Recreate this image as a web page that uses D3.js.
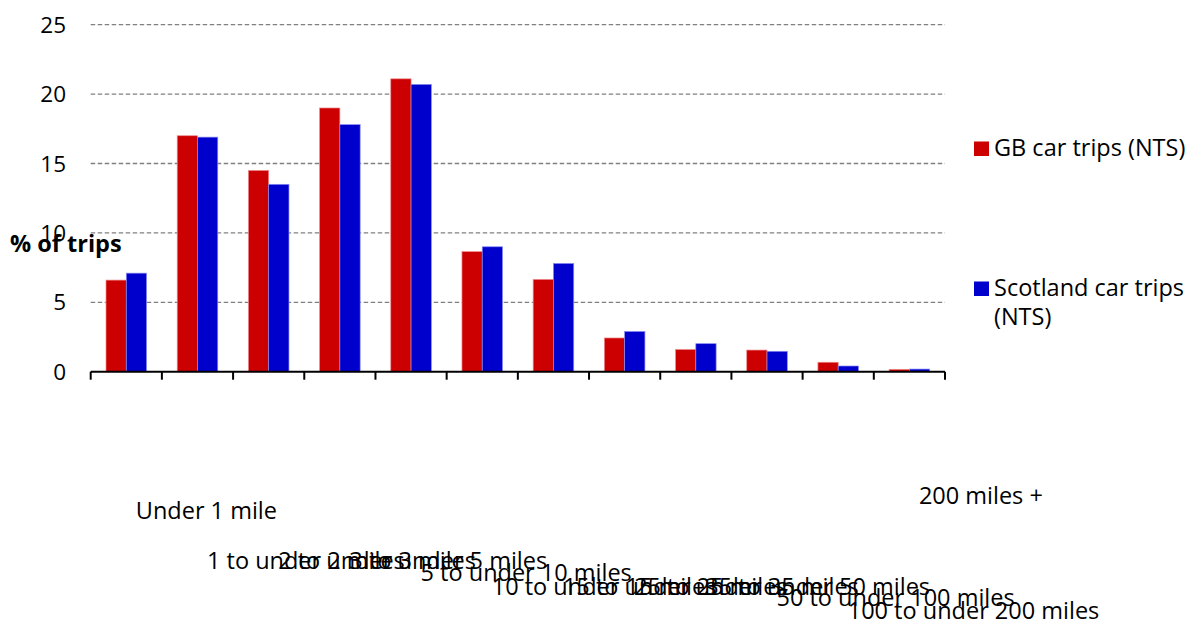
<!DOCTYPE html>
<html lang="en">
<head>
<meta charset="UTF-8">
<title>Car trips by distance</title>
<script src="https://d3js.org/d3.v7.min.js"></script>
<style>
  body { margin: 0; background: #fff; }
  svg text { font-family: "Open Sans", "Noto Sans", sans-serif; fill: #000; }
</style>
</head>
<body>
<div id="chart"></div>
<script>
// data
const categories = ["Under 1 mile", "1 to under 2 miles", "2 to under 3 miles", "3 to under 5 miles",
  "5 to under 10 miles", "10 to under 15 miles", "15 to under 25 miles", "25 to under 35 miles",
  "35 to under 50 miles", "50 to under 100 miles", "100 to under 200 miles", "200 miles +"];
const gbTrips = [6.6, 17.0, 14.5, 19.0, 21.1, 8.65, 6.65, 2.43, 1.6, 1.56, 0.68, 0.17];
const scotTrips = [7.1, 16.9, 13.5, 17.8, 20.7, 9.0, 7.8, 2.9, 2.02, 1.47, 0.41, 0.19];
const seriesNames = ["GB car trips (NTS)", "Scotland car trips (NTS)"];
const yTicks = [0, 5, 10, 15, 20, 25];

// the x labels are staggered in the original, one row per label
const labelRows = [1, 2, 2, 2, 3, 4, 4, 4, 4, 5, 6, 0];
const rowOffsets = [0, 15, 65, 77, 91, 102, 115];

const W = 1197, H = 620;
const mLeft = 90.7, mRight = 945, mTop = 24.7, mBottom = 371.7;

const svg = d3.select("#chart").append("svg")
  .attr("width", W).attr("height", H);

const x = d3.scaleBand().domain(categories).range([mLeft, mRight]);
const y = d3.scaleLinear().domain([0, 25]).range([mBottom, mTop]);
const step = x.step();
const inner = d3.scaleBand().domain([0, 1])
  .range([step * 0.215, step * 0.785]);

const colors = ["#cc0000", "#0000cc"];
const edges = ["#f08a8a", "#8a8af5"];

// gridlines
svg.append("g").selectAll("line")
  .data(yTicks.filter(d => d > 0))
  .join("line")
  .attr("x1", mLeft).attr("x2", mRight)
  .attr("y1", d => y(d)).attr("y2", d => y(d))
  .attr("stroke", "#808080").attr("stroke-width", 1.3)
  .attr("stroke-dasharray", "4.5,2.5");

// y tick labels
svg.append("g").selectAll("text")
  .data(yTicks)
  .join("text")
  .attr("x", 66).attr("y", d => y(d) + 8)
  .attr("text-anchor", "end")
  .style("font-size", "22.5px")
  .text(d => d);

// bars
[gbTrips, scotTrips].forEach((vals, s) => {
  svg.append("g").selectAll("rect")
    .data(vals)
    .join("rect")
    .attr("x", (d, i) => x(categories[i]) + inner(s))
    .attr("y", d => y(d))
    .attr("width", inner.bandwidth())
    .attr("height", d => y(0) - y(d))
    .attr("fill", colors[s])
    .attr("stroke", edges[s])
    .attr("stroke-width", 0.7);
});

// x axis
const xAxis = svg.append("g")
  .attr("transform", `translate(0,${mBottom})`);
xAxis.append("line")
  .attr("x1", mLeft).attr("x2", mRight)
  .attr("stroke", "#000").attr("stroke-width", 2);
xAxis.selectAll(".tick")
  .data(categories.concat([null]))
  .join("line")
  .attr("class", "tick")
  .attr("x1", (d, i) => mLeft + i * step).attr("x2", (d, i) => mLeft + i * step)
  .attr("y1", 0).attr("y2", 8)
  .attr("stroke", "#000").attr("stroke-width", 2);

// x labels (left aligned, staggered)
svg.append("g").selectAll("text")
  .data(categories)
  .join("text")
  .attr("x", d => x(d) + step / 2 + 9.5)
  .attr("y", (d, i) => 503.5 + rowOffsets[labelRows[i]])
  .style("font-size", "23.5px")
  .text(d => d);

// y axis title
svg.append("text")
  .attr("x", 10).attr("y", 252)
  .style("font-size", "23.5px").style("font-weight", "bold")
  .text("% of trips");

// legend
const legendY = [156, 296];
seriesNames.forEach((name, s) => {
  const g = svg.append("g");
  g.append("rect")
    .attr("x", 974).attr("y", legendY[s] - 14.5)
    .attr("width", 15).attr("height", 14.5)
    .attr("fill", colors[s]);
  const words = s === 0 ? [name] : ["Scotland car trips", "(NTS)"];
  words.forEach((w, k) => {
    g.append("text")
      .attr("x", 994).attr("y", legendY[s] + k * 28.5)
      .style("font-size", "23.5px")
      .text(w);
  });
});
</script>
</body>
</html>
